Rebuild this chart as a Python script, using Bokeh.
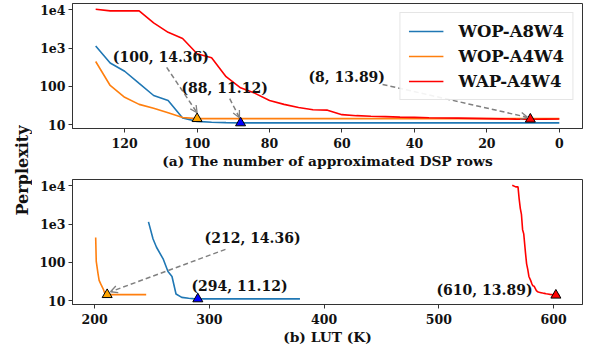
from bokeh.plotting import figure
from bokeh.models import (Range1d, FixedTicker, Legend, LegendItem, Arrow, OpenHead,
                          Label, CustomJSTickFormatter)
from bokeh.layouts import row, column
from bokeh.embed import file_html
from bokeh.resources import INLINE
import math

FONT = "DejaVu Serif"

# ---------------- data ----------------
rows = [128, 124, 120, 116, 112, 108, 104, 100, 96, 92, 88, 84, 80, 76, 72, 68, 64,
        60, 56, 52, 48, 44, 40, 36, 32, 28, 24, 20, 16, 12, 8, 4, 0]

ppl_wop_a8w4 = [1150, 410, 250, 120, 58, 43, 15, 12.2, 11.6, 11.3, 11.12, 11.12, 11.12,
                11.12, 11.12, 11.12, 11.12, 11.12, 11.12, 11.12, 11.12, 11.12, 11.12,
                11.12, 11.12, 11.12, 11.12, 11.12, 11.12, 11.12, 11.12, 11.12, 11.12]
ppl_wop_a4w4 = [450, 106, 52, 34, 27, 20.4, 15.4, 14.36, 14.36, 14.36, 14.36, 14.36,
                14.36, 14.36, 14.36, 14.36, 14.36, 14.36, 14.36, 14.36, 14.36, 14.36,
                14.36, 14.36, 14.36, 14.36, 14.36, 14.36, 14.36, 14.36, 14.36, 14.36, 14.36]
ppl_wap_a4w4 = [10500, 9500, 9500, 9500, 4600, 2600, 1800, 720, 560, 180, 92, 66, 43,
                34, 28, 24.5, 24, 18.3, 17.2, 16.6, 16.2, 15.8, 15.5, 15.2, 15.0, 14.8,
                14.6, 14.4, 14.2, 14.0, 13.89, 14.0, 14.1]

lut_wop_a8w4 = [247, 251, 254, 260, 264, 267.5, 271, 276, 282, 286, 290, 294, 298, 302,
                306, 310, 314, 318, 322, 326, 330, 334, 338, 342, 346, 350, 354, 358,
                362, 366, 370, 374.5, 379]
lut_wop_a4w4 = [201, 201.5, 203, 204, 205.5, 207.5, 209, 211, 212.5, 214, 215.5, 217,
                218.5, 220, 221.5, 223, 224.5, 226, 227.5, 229, 230.5, 232, 233.5, 235,
                236.5, 238, 239.5, 241, 242, 243, 244, 244.5, 245]
lut_wap_a4w4 = [564, 567, 568, 569, 570, 571, 572, 573, 574, 575.5, 576.5, 577.5, 578.5,
                580, 581, 582, 583, 585, 586, 587.5, 589, 590.5, 592, 593.5, 595, 596,
                597, 598.5, 600, 601, 602, 603.5, 605]

series_names = ["WOP-A8W4", "WOP-A4W4", "WAP-A4W4"]
line_colors = ["#1f77b4", "#ff7f0e", "red"]
marker_colors = ["blue", "orange", "red"]
best_rows = [88, 100, 8]

x1_ticks = [0, 20, 40, 60, 80, 100, 120]
x2_ticks = [200, 300, 400, 500, 600]
y_ticks = [10, 100, 1000, 10000]

top_labels = ["(88, 11.12)", "(100, 14.36)", "(8, 13.89)"]
bottom_labels = ["(294, 11.12)", "(212, 14.36)", "(610, 13.89)"]

ppl = [ppl_wop_a8w4, ppl_wop_a4w4, ppl_wap_a4w4]
lut = [lut_wop_a8w4, lut_wop_a4w4, lut_wap_a4w4]

AX = "#333333"
TXT = "#111111"
YR = (10 ** 0.9, 10 ** 4.17)


def style(p, xticks, xlabel):
    p.xgrid.visible = False
    p.ygrid.visible = False
    p.outline_line_color = AX
    p.outline_line_width = 1
    p.xaxis.ticker = FixedTicker(ticks=xticks)
    p.yaxis.ticker = FixedTicker(ticks=y_ticks)
    p.yaxis.formatter = CustomJSTickFormatter(
        code="return tick >= 1000 ? '1e' + Math.round(Math.log10(tick)) : tick.toFixed(0);")
    for ax in (p.xaxis[0], p.yaxis[0]):
        ax.axis_line_color = AX
        ax.major_tick_line_color = AX
        ax.minor_tick_line_color = None
        ax.major_tick_out = 4
        ax.major_tick_in = 0
        ax.major_label_standoff = 3
        ax.major_label_text_font = FONT
        ax.major_label_text_font_style = "bold"
        ax.major_label_text_font_size = "12.5px"
        ax.major_label_text_color = TXT
    p.xaxis.major_label_standoff = 5
    p.xaxis.axis_label = xlabel
    p.xaxis.axis_label_text_font = FONT
    p.xaxis.axis_label_text_font_style = "bold"
    p.xaxis.axis_label_text_font_size = "13.8px"
    p.xaxis.axis_label_text_color = TXT
    p.xaxis.axis_label_standoff = 2


def label(p, x, y, txt):
    p.add_layout(Label(x=x, y=y, text=txt, text_align="center", text_baseline="middle",
                       text_font=FONT, text_font_style="bold", text_font_size="14px",
                       text_color=TXT))


def arrow(p, xs, ys, xe, ye):
    p.add_layout(Arrow(end=OpenHead(size=7, line_color="gray", line_width=1.3),
                       x_start=xs, y_start=ys, x_end=xe, y_end=ye,
                       line_color="gray", line_width=1.5, line_dash="5 3"))


# ---------------- top panel ----------------
p1 = figure(width=552, height=177, x_range=Range1d(134.4, -6.4),
            y_range=Range1d(*YR), y_axis_type="log",
            toolbar_location=None, output_backend="svg",
            min_border_left=40, min_border_right=2, min_border_top=3, min_border_bottom=49)
style(p1, x1_ticks, "(a) The number of approximated DSP rows")

items = []
for i in range(3):
    r = p1.line(rows, ppl[i], line_color=line_colors[i], line_width=1.6)
    items.append(LegendItem(label=series_names[i], renderers=[r]))
for i in range(3):
    k = rows.index(best_rows[i])
    p1.scatter([rows[k]], [ppl[i][k]], marker="triangle", size=10,
               fill_color=marker_colors[i], line_color="black", line_width=1)

legend = Legend(items=items, location="top_right", margin=9, padding=8,
                label_standoff=15, glyph_width=35, glyph_height=20, spacing=5,
                label_text_font=FONT, label_text_font_style="bold",
                label_text_font_size="16.5px", label_text_color=TXT,
                border_line_color="#cccccc", border_line_width=1,
                background_fill_color="white", background_fill_alpha=0.9)
p1.add_layout(legend)

label(p1, 110.0, 575, top_labels[1])
arrow(p1, 108.4, 316, 100, 20.5)
label(p1, 92.4, 93, top_labels[0])
arrow(p1, 91.0, 48, 88.3, 15.2)
label(p1, 58.7, 172, top_labels[2])
arrow(p1, 48.8, 113, 8.7, 15.5)

# ---------------- bottom panel ----------------
p2 = figure(width=552, height=173, x_range=Range1d(180.8, 625.2),
            y_range=Range1d(*YR), y_axis_type="log",
            toolbar_location=None, output_backend="svg",
            min_border_left=40, min_border_right=2, min_border_top=2, min_border_bottom=46)
style(p2, x2_ticks, "(b) LUT (K)")

for i in range(3):
    p2.line(lut[i], ppl[i], line_color=line_colors[i], line_width=1.6)
for i in range(3):
    k = rows.index(best_rows[i])
    p2.scatter([lut[i][k]], [ppl[i][k]], marker="triangle", size=10,
               fill_color=marker_colors[i], line_color="black", line_width=1)

label(p2, 337.7, 424, bottom_labels[1])
arrow(p2, 314.1, 220, 213.9, 17.1)
label(p2, 326.3, 24, bottom_labels[0])
label(p2, 539.8, 18.9, bottom_labels[2])

# ---------------- shared y label ----------------
pl = figure(width=32, height=350, x_range=Range1d(0, 32), y_range=Range1d(0, 350),
            toolbar_location=None, output_backend="svg",
            min_border_left=0, min_border_right=0, min_border_top=0, min_border_bottom=0)
pl.axis.visible = False
pl.xgrid.visible = False
pl.ygrid.visible = False
pl.outline_line_color = None
pl.add_layout(Label(x=22, y=180, text="Perplexity", angle=math.pi / 2,
                    text_align="center", text_baseline="middle", text_font=FONT,
                    text_font_style="bold", text_font_size="16px", text_color=TXT))

layout = row(pl, column(p1, p2))
open("out.html", "w").write(file_html(layout, INLINE))
